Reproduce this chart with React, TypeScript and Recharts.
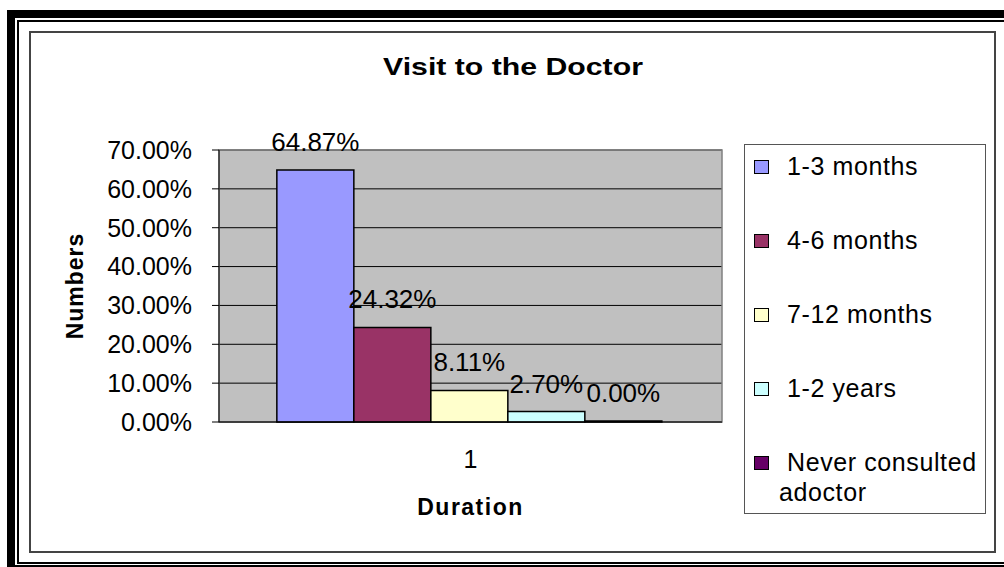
import {
  Bar,
  BarChart,
  CartesianGrid,
  LabelList,
  ReferenceArea,
  XAxis,
  YAxis,
} from "recharts";

const FONT = '"Liberation Sans", Arial, sans-serif';

const categories = ["1"];
const seriesNames = [
  "1-3 months",
  "4-6 months",
  "7-12 months",
  "1-2 years",
  "Never consulted adoctor",
];
const seriesValues = [64.87, 24.32, 8.11, 2.7, 0];
const seriesColors = ["#9999FF", "#993366", "#FFFFCC", "#CCFFFF", "#660066"];
const yTicks = [0, 10, 20, 30, 40, 50, 60, 70];

const data = categories.map((name) => {
  const row: Record<string, string | number> = { name };
  seriesValues.forEach((v, i) => {
    row[`s${i}`] = v;
  });
  return row;
});

const pct = (v: unknown) => `${Number(v).toFixed(2)}%`;

function Legend() {
  return (
    <div
      style={{
        position: "absolute",
        left: 744,
        top: 144,
        width: 242,
        height: 370,
        boxSizing: "border-box",
        border: "1px solid #555",
        background: "#fff",
        fontFamily: FONT,
        fontSize: 25,
        lineHeight: "30px",
        letterSpacing: 0.6,
        color: "#000",
      }}
    >
      {seriesNames.map((name, i) => (
        <div
          key={name}
          style={{
            position: "absolute",
            left: 0,
            right: 0,
            top: 6 + i * 74,
            display: "flex",
            alignItems: "flex-start",
          }}
        >
          <span
            style={{
              display: "inline-block",
              width: 15,
              height: 14,
              marginLeft: 9,
              marginTop: 9,
              boxSizing: "border-box",
              border: "1px solid #000",
              background: seriesColors[i],
              flex: "none",
            }}
          />
          <span style={{ marginLeft: 10, textIndent: 8, width: 206 }}>{name}</span>
        </div>
      ))}
    </div>
  );
}

export default function App() {
  return (
    <div
      style={{
        position: "absolute",
        left: 0,
        top: 0,
        width: 1004,
        height: 567,
        overflow: "hidden",
        background: "#fff",
        fontFamily: FONT,
      }}
    >
      {/* frame */}
      <div
        style={{
          position: "absolute",
          left: 7,
          top: 10,
          width: 1010,
          height: 563,
          boxSizing: "border-box",
          border: "8px solid #000",
        }}
      />
      <div
        style={{
          position: "absolute",
          left: 17,
          top: 20,
          width: 1000,
          height: 544,
          boxSizing: "border-box",
          border: "2px solid #000",
        }}
      />
      <div
        style={{
          position: "absolute",
          left: 29,
          top: 31,
          width: 967,
          height: 522,
          boxSizing: "border-box",
          border: "2px solid #444",
        }}
      />

      <div style={{ position: "absolute", left: 0, top: 0 }}>
        <BarChart
          width={1004}
          height={567}
          data={data}
          margin={{ top: 150, right: 282, bottom: 85, left: 0 }}
          barCategoryGap="11.5%"
          barGap={0}
        >
          <CartesianGrid
            vertical={false}
            stroke="#000"
            fill="#C0C0C0"
            fillOpacity={1}
          />
          <ReferenceArea
            y1={0}
            y2={70}
            fill="none"
            stroke="#808080"
            strokeWidth={1.5}
            ifOverflow="visible"
          />
          <XAxis
            dataKey="name"
            height={60}
            tickLine={false}
            tickSize={8}
            tickMargin={20}
            axisLine={{ stroke: "#000" }}
            tick={{ fill: "#000", fontSize: 25, fontFamily: FONT }}
            label={({ viewBox }: any) => (
              <text
                x={viewBox.x + viewBox.width / 2}
                y={viewBox.y + 93}
                textAnchor="middle"
                fontFamily={FONT}
                fontWeight="bold"
                fontSize={23}
                letterSpacing={1.5}
                fill="#000"
              >
                Duration
              </text>
            )}
          />
          <YAxis
            type="number"
            domain={[0, 70]}
            ticks={yTicks}
            interval={0}
            width={219}
            tickSize={7}
            tickMargin={20}
            tickFormatter={pct}
            axisLine={{ stroke: "#000" }}
            tickLine={{ stroke: "#000" }}
            tick={{ fill: "#000", fontSize: 25, fontFamily: FONT }}
            label={({ viewBox }: any) => (
              <text
                transform={`translate(${viewBox.x + 83}, ${
                  viewBox.y + viewBox.height / 2
                }) rotate(-90)`}
                textAnchor="middle"
                fontFamily={FONT}
                fontWeight="bold"
                fontSize={23}
                letterSpacing={1}
                fill="#000"
              >
                Numbers
              </text>
            )}
          />
          {seriesNames.map((name, i) => (
            <Bar
              key={name}
              dataKey={`s${i}`}
              name={name}
              fill={seriesColors[i]}
              stroke="#000"
              strokeWidth={1.5}
              minPointSize={1}
              isAnimationActive={false}
            >
              <LabelList
                dataKey={`s${i}`}
                position="top"
                offset={19}
                formatter={pct}
                fill="#000"
                fontSize={26}
                fontFamily={FONT}
              />
            </Bar>
          ))}
        </BarChart>
      </div>

      <div
        style={{
          position: "absolute",
          left: 313,
          top: 55,
          width: 400,
          textAlign: "center",
          fontFamily: FONT,
          fontWeight: "bold",
          fontSize: 24,
          lineHeight: "24px",
          color: "#000",
          transform: "scaleX(1.26)",
        }}
      >
        Visit to the Doctor
      </div>

      <Legend />
    </div>
  );
}
